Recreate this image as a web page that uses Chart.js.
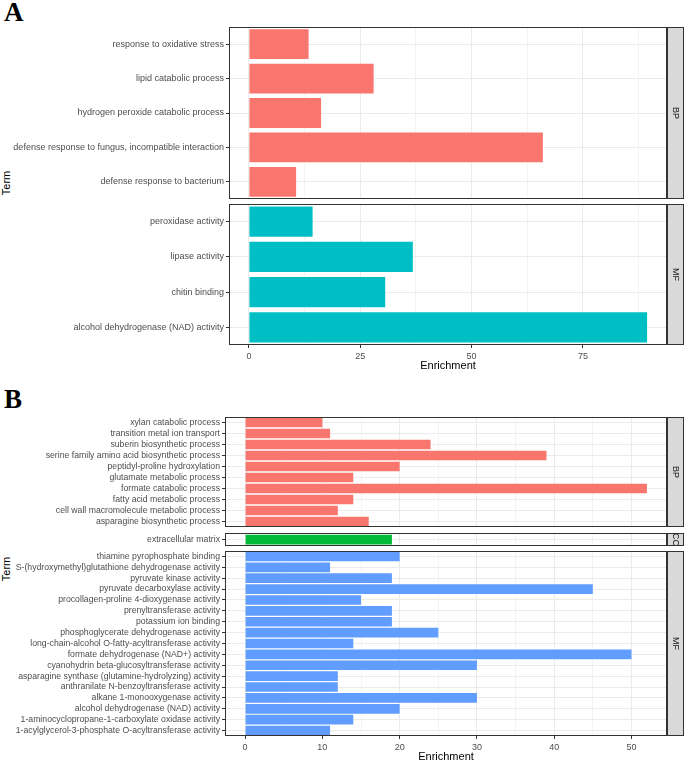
<!DOCTYPE html>
<html>
<head>
<meta charset="utf-8">
<script src="https://cdn.jsdelivr.net/npm/chart.js@4"></script>
<style>
  body { margin: 0; background: #fff; }
  #wrap { position: relative; width: 685px; height: 762px; overflow: hidden; }
  canvas { position: absolute; left: 0; }
  .tag { position: absolute; font-family: 'Liberation Serif', 'Times New Roman', serif; font-weight: bold; font-size: 27px; line-height: 1; }
  .term { position: absolute; font-family: 'Liberation Sans', Arial, sans-serif; font-size: 11px; color: #000; transform: rotate(-90deg); transform-origin: center; width: 40px; text-align: center; }
</style>
</head>
<body>
<div id="wrap">
  <div class="tag" style="left:4px; top:-1px;">A</div>
  <div class="tag" style="left:4px; top:386px;">B</div>
  <div class="term" style="left:-14px; top:177px;">Term</div>
  <div class="term" style="left:-14px; top:563px;">Term</div>
  <canvas id="aBP" width="685" height="174" style="top:26px"></canvas>
  <canvas id="aMF" width="685" height="170" style="top:203px"></canvas>
  <canvas id="bBP" width="685" height="112" style="top:416px"></canvas>
  <canvas id="bCC" width="685" height="15" style="top:532px"></canvas>
  <canvas id="bMF" width="685" height="214" style="top:550px"></canvas>
</div>
<script>
// 패널 A 데이터 (위에서 아래 순서)
const aBPTerms = ['response to oxidative stress', 'lipid catabolic process', 'hydrogen peroxide catabolic process',
  'defense response to fungus, incompatible interaction', 'defense response to bacterium'];
const aBPValues = [13.4, 28.0, 16.2, 66.0, 10.6];
const aMFTerms = ['peroxidase activity', 'lipase activity', 'chitin binding', 'alcohol dehydrogenase (NAD) activity'];
const aMFValues = [14.3, 36.8, 30.6, 89.4];
const aTicks = [0, 25, 50, 75];

// 패널 B 데이터
const bBPTerms = ['xylan catabolic process', 'transition metal ion transport', 'suberin biosynthetic process',
  'serine family amino acid biosynthetic process', 'peptidyl-proline hydroxylation', 'glutamate metabolic process',
  'formate catabolic process', 'fatty acid metabolic process', 'cell wall macromolecule metabolic process',
  'asparagine biosynthetic process'];
const bBPValues = [10, 11, 24, 39, 20, 14, 52, 14, 12, 16];
const bCCTerms = ['extracellular matrix'];
const bCCValues = [19];
const bMFTerms = ['thiamine pyrophosphate binding', 'S-(hydroxymethyl)glutathione dehydrogenase activity',
  'pyruvate kinase activity', 'pyruvate decarboxylase activity', 'procollagen-proline 4-dioxygenase activity',
  'prenyltransferase activity', 'potassium ion binding', 'phosphoglycerate dehydrogenase activity',
  'long-chain-alcohol O-fatty-acyltransferase activity', 'formate dehydrogenase (NAD+) activity',
  'cyanohydrin beta-glucosyltransferase activity', 'asparagine synthase (glutamine-hydrolyzing) activity',
  'anthranilate N-benzoyltransferase activity', 'alkane 1-monooxygenase activity',
  'alcohol dehydrogenase (NAD) activity', '1-aminocyclopropane-1-carboxylate oxidase activity',
  '1-acylglycerol-3-phosphate O-acyltransferase activity'];
const bMFValues = [20, 11, 19, 45, 15, 19, 19, 25, 14, 50, 30, 12, 12, 30, 20, 14, 11];
const bTicks = [0, 10, 20, 30, 40, 50];

const RED = '#F8766D', CYAN = '#00BFC4', GREEN = '#00BA38', BLUE = '#619CFF';

Chart.defaults.font.family = "'Liberation Sans', Arial, sans-serif";
Chart.defaults.animation = false;

// 패널 테두리 + 오른쪽 스트립
const facetBox = {
  id: 'facetBox',
  afterDraw(chart, args, opts) {
    const ctx = chart.ctx, a = chart.chartArea;
    const sw = 17;
    ctx.save();
    ctx.fillStyle = '#D9D9D9';
    ctx.fillRect(a.right, a.top, sw, a.bottom - a.top);
    ctx.strokeStyle = '#333333';
    ctx.lineWidth = 1;
    ctx.strokeRect(a.left + 0.5, a.top + 0.5, a.right - a.left - 1, a.bottom - a.top - 1);
    ctx.strokeRect(a.right + 0.5, a.top + 0.5, sw - 1, a.bottom - a.top - 1);
    ctx.translate(a.right + sw / 2, (a.top + a.bottom) / 2);
    ctx.rotate(Math.PI / 2);
    ctx.fillStyle = '#1A1A1A';
    ctx.font = "9px 'Liberation Sans', Arial, sans-serif";
    ctx.textAlign = 'center';
    ctx.textBaseline = 'middle';
    ctx.fillText(opts.label, 0, 0);
    ctx.restore();
  }
};

const noPad = (s) => { s.paddingTop = 0; s.paddingBottom = 0; s.paddingLeft = 0; s.paddingRight = 0; };

const makeFacet = (id, terms, values, color, strip, axisWidth, ticks, step, maxAll, bottomAxis, labelSize) => {
  const n = terms.length;
  const lo = -0.05 * maxAll, hi = 1.05 * maxAll;
  const gridVals = [];
  for (let v = 0; v <= hi; v += step / 2) gridVals.push(v);

  new Chart(document.getElementById(id), {
    type: 'bar',
    data: {
      labels: terms,
      datasets: [{
        data: values,
        backgroundColor: color,
        borderWidth: 0,
        categoryPercentage: 1,
        barPercentage: 0.9 * n / (n + 0.2)
      }]
    },
    plugins: [facetBox],
    options: {
      indexAxis: 'y',
      responsive: false,
      layout: { padding: { top: 1, bottom: bottomAxis ? 0 : 1, left: 0, right: 18 } },
      plugins: {
        legend: { display: false },
        tooltip: { enabled: false },
        facetBox: { label: strip }
      },
      scales: {
        x: {
          type: 'linear',
          min: lo,
          max: hi,
          afterBuildTicks: (s) => { s.ticks = gridVals.map(v => ({ value: v })); },
          afterFit: (s) => { s.height = bottomAxis ? bottomAxis : 0; noPad(s); },
          border: { display: false },
          grid: {
            color: (c) => ticks.includes(c.tick.value) ? '#EBEBEB' : '#F4F4F4',
            lineWidth: 1,
            drawTicks: !!bottomAxis,
            tickLength: 3,
            tickColor: (c) => ticks.includes(c.tick.value) ? '#333333' : 'rgba(0,0,0,0)'
          },
          ticks: {
            display: !!bottomAxis,
            autoSkip: false,
            maxRotation: 0,
            padding: 3,
            color: '#4D4D4D',
            font: { size: 9 },
            callback: (v) => ticks.includes(v) ? v : ''
          },
          title: {
            display: !!bottomAxis,
            text: 'Enrichment',
            color: '#000000',
            font: { size: 11 },
            padding: { top: 0, bottom: 0 }
          }
        },
        y: {
          type: 'category',
          offset: true,
          afterFit: (s) => { s.width = axisWidth; noPad(s); },
          border: { display: false },
          grid: {
            offset: false,
            color: '#EBEBEB',
            tickLength: 3,
            tickColor: '#333333'
          },
          ticks: {
            autoSkip: false,
            padding: 2,
            color: '#4D4D4D',
            font: { size: labelSize }
          }
        }
      }
    }
  });
};

const maxA = Math.max(...aBPValues, ...aMFValues);
const maxB = Math.max(...bBPValues, ...bCCValues, ...bMFValues);

makeFacet('aBP', aBPTerms, aBPValues, RED, 'BP', 229, aTicks, 25, maxA, 0, 9);
makeFacet('aMF', aMFTerms, aMFValues, CYAN, 'MF', 229, aTicks, 25, maxA, 28, 9);
makeFacet('bBP', bBPTerms, bBPValues, RED, 'BP', 225, bTicks, 10, maxB, 0, 8.7);
makeFacet('bCC', bCCTerms, bCCValues, GREEN, 'CC', 225, bTicks, 10, maxB, 0, 8.7);
makeFacet('bMF', bMFTerms, bMFValues, BLUE, 'MF', 225, bTicks, 10, maxB, 28, 8.7);
</script>
</body>
</html>
